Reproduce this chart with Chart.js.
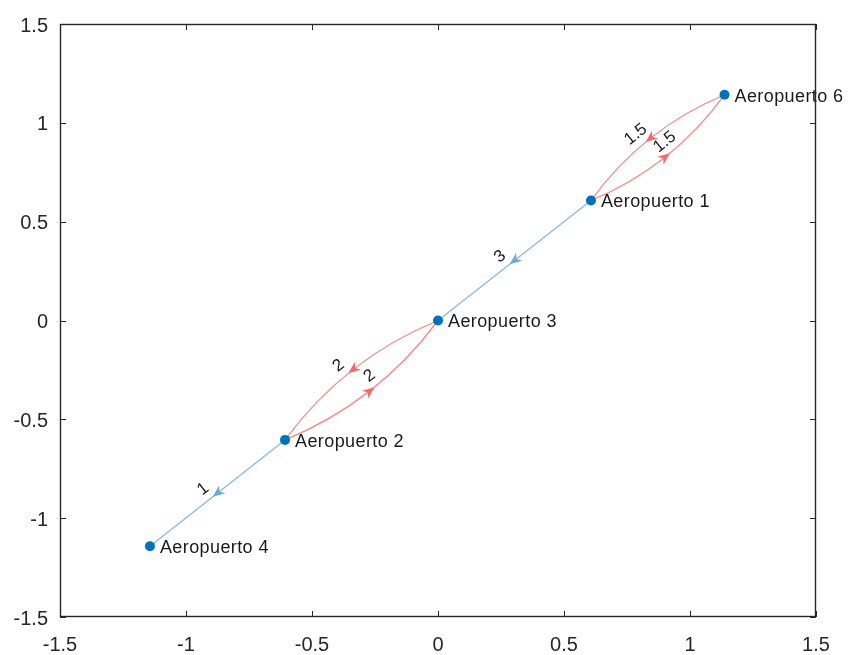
<!DOCTYPE html>
<html><head><meta charset="utf-8">
<script src="https://cdn.jsdelivr.net/npm/chart.js@4.4.1/dist/chart.umd.min.js"></script>
<style>html,body{margin:0;padding:0;background:#fff}#wrap{width:848px;height:655px;position:relative}</style>
</head><body><div id="wrap"><canvas id="c"></canvas></div>
<script>
// ---- data ----
const nodeNames = ['Aeropuerto 1','Aeropuerto 2','Aeropuerto 3','Aeropuerto 4','Aeropuerto 6'];
const nodeX = [0.607, -0.607, 0, -1.143, 1.137];
const nodeY = [0.607, -0.604, 0, -1.142, 1.142];
const edgeFrom   = [0, 0, 4, 2, 1, 1];
const edgeTo     = [2, 4, 0, 1, 2, 3];
const edgeWeight = ['3', '1.5', '1.5', '2', '2', '1'];
const edgeCurved = [false, true, true, true, true, false];
const xTicks = [-1.5, -1, -0.5, 0, 0.5, 1, 1.5];
const yTicks = [-1.5, -1, -0.5, 0, 0.5, 1, 1.5];
const xTickLabels = ['-1.5', '-1', '-0.5', '0', '0.5', '1', '1.5'];
const yTickLabels = ['-1.5', '-1', '-0.5', '0', '0.5', '1', '1.5'];

const FONT = "'Liberation Sans', Arial, Helvetica, sans-serif";
const AXIS = '#262626';
const BLUE_LINE = '#86b9de';
const BLUE_ARROW = '#6aaadb';
const RED_LINE = '#f08a8a';
const RED_ARROW = '#f26a6a';

function edgeGeom(chart, i) {
  const xs = chart.scales.x, ys = chart.scales.y;
  const a = edgeFrom[i], b = edgeTo[i];
  const x0 = xs.getPixelForValue(nodeX[a]), y0 = ys.getPixelForValue(nodeY[a]);
  const x1 = xs.getPixelForValue(nodeX[b]), y1 = ys.getPixelForValue(nodeY[b]);
  const L = Math.hypot(x1 - x0, y1 - y0);
  const dx = (x1 - x0) / L, dy = (y1 - y0) / L;
  const nx = -dy, ny = dx; // right-hand normal on screen
  const off = edgeCurved[i] ? 0.14 * L : 0;
  const cx = (x0 + x1) / 2 + nx * off, cy = (y0 + y1) / 2 + ny * off;
  const mx = (x0 + x1) / 2 + nx * off / 2, my = (y0 + y1) / 2 + ny * off / 2;
  return {x0, y0, x1, y1, dx, dy, nx, ny, cx, cy, mx, my};
}

const graphPlugin = {
  id: 'graph',
  beforeDatasetsDraw(chart) {
    const ctx = chart.ctx;
    const ca = chart.chartArea;
    ctx.save();
    ctx.beginPath(); ctx.rect(ca.left, ca.top, ca.right - ca.left, ca.bottom - ca.top); ctx.clip();
    for (let i = 0; i < edgeFrom.length; i++) {
      const g = edgeGeom(chart, i);
      ctx.strokeStyle = edgeCurved[i] ? RED_LINE : BLUE_LINE;
      ctx.lineWidth = 1.3;
      ctx.beginPath();
      ctx.moveTo(g.x0, g.y0);
      if (edgeCurved[i]) ctx.quadraticCurveTo(g.cx, g.cy, g.x1, g.y1);
      else ctx.lineTo(g.x1, g.y1);
      ctx.stroke();
      // arrow at the middle
      const tipX = g.mx + g.dx * 6, tipY = g.my + g.dy * 6;
      const bx = g.mx - g.dx * 6, by = g.my - g.dy * 6;
      ctx.fillStyle = edgeCurved[i] ? RED_ARROW : BLUE_ARROW;
      ctx.beginPath();
      ctx.moveTo(tipX, tipY);
      ctx.lineTo(bx + g.nx * 5, by + g.ny * 5);
      ctx.lineTo(g.mx - g.dx * 2.5, g.my - g.dy * 2.5);
      ctx.lineTo(bx - g.nx * 5, by - g.ny * 5);
      ctx.closePath();
      ctx.fill();
    }
    ctx.restore();
  },
  afterDatasetsDraw(chart) {
    const ctx = chart.ctx;
    const xs = chart.scales.x, ys = chart.scales.y;
    ctx.save();
    // edge labels
    ctx.fillStyle = '#1a1a1a';
    ctx.font = '17px ' + FONT;
    ctx.textAlign = 'center';
    ctx.textBaseline = 'middle';
    for (let i = 0; i < edgeFrom.length; i++) {
      const g = edgeGeom(chart, i);
      let ux = g.nx, uy = g.ny;
      if (uy > 0) { ux = -ux; uy = -uy; }
      const lx = g.mx + g.dx * 9 + ux * 12, ly = g.my + g.dy * 9 + uy * 12;
      let ang = Math.atan2(g.dy, g.dx);
      if (ang > Math.PI / 2) ang -= Math.PI;
      if (ang < -Math.PI / 2) ang += Math.PI;
      ctx.save();
      ctx.translate(lx, ly);
      ctx.rotate(ang);
      ctx.fillText(edgeWeight[i], 0, 0);
      ctx.restore();
    }
    // node labels
    ctx.font = '18px ' + FONT;
    ctx.fillStyle = '#1a1a1a';
    ctx.textAlign = 'left';
    ctx.textBaseline = 'middle';
    ctx.letterSpacing = '0.4px';
    for (let k = 0; k < nodeNames.length; k++) {
      ctx.fillText(nodeNames[k], xs.getPixelForValue(nodeX[k]) + 10, ys.getPixelForValue(nodeY[k]) + 2);
    }
    ctx.restore();
  },
  afterDraw(chart) {
    const ctx = chart.ctx;
    const ca = chart.chartArea;
    const xs = chart.scales.x, ys = chart.scales.y;
    ctx.save();
    ctx.strokeStyle = AXIS;
    ctx.lineWidth = 1.4;
    ctx.strokeRect(ca.left + 0.5, ca.top + 0.5, ca.right - ca.left - 1, ca.bottom - ca.top - 1);
    ctx.lineWidth = 1;
    ctx.beginPath();
    xTicks.forEach(v => {
      const p = Math.round(xs.getPixelForValue(v)) + 0.5;
      ctx.moveTo(p, ca.bottom); ctx.lineTo(p, ca.bottom - 6);
      ctx.moveTo(p, ca.top); ctx.lineTo(p, ca.top + 6);
    });
    yTicks.forEach(v => {
      const p = Math.round(ys.getPixelForValue(v)) + 0.5;
      ctx.moveTo(ca.left, p); ctx.lineTo(ca.left + 6, p);
      ctx.moveTo(ca.right, p); ctx.lineTo(ca.right - 6, p);
    });
    ctx.stroke();
    ctx.restore();
  }
};

const points = nodeX.map((x, k) => ({x: x, y: nodeY[k]}));

new Chart(document.getElementById('c'), {
  type: 'scatter',
  data: {
    datasets: [{
      data: points,
      pointRadius: 5,
      pointHoverRadius: 5,
      pointBackgroundColor: '#0072BD',
      pointBorderColor: '#0072BD',
      pointBorderWidth: 0,
      showLine: false
    }]
  },
  options: {
    responsive: true,
    maintainAspectRatio: false,
    animation: false,
    events: [],
    layout: {padding: {top: 21, right: 32, left: 0, bottom: 0}},
    plugins: {legend: {display: false}, tooltip: {enabled: false}},
    scales: {
      x: {
        type: 'linear', min: -1.5, max: 1.5,
        afterBuildTicks: s => { s.ticks = xTicks.map(v => ({value: v})); },
        afterFit: s => { s.height = 38; },
        grid: {display: false, drawTicks: false},
        border: {display: false},
        ticks: {
          padding: 16, color: AXIS, maxRotation: 0, autoSkip: false,
          font: {family: FONT, size: 20},
          callback: (v, i) => xTickLabels[i]
        }
      },
      y: {
        type: 'linear', min: -1.5, max: 1.5,
        afterBuildTicks: s => { s.ticks = yTicks.map(v => ({value: v})); },
        afterFit: s => { s.width = 60; },
        grid: {display: false, drawTicks: false},
        border: {display: false},
        ticks: {
          padding: 12, color: AXIS, autoSkip: false, labelOffset: 2,
          font: {family: FONT, size: 20},
          callback: (v, i) => yTickLabels[i]
        }
      }
    }
  },
  plugins: [graphPlugin]
});
</script>
</body></html>
